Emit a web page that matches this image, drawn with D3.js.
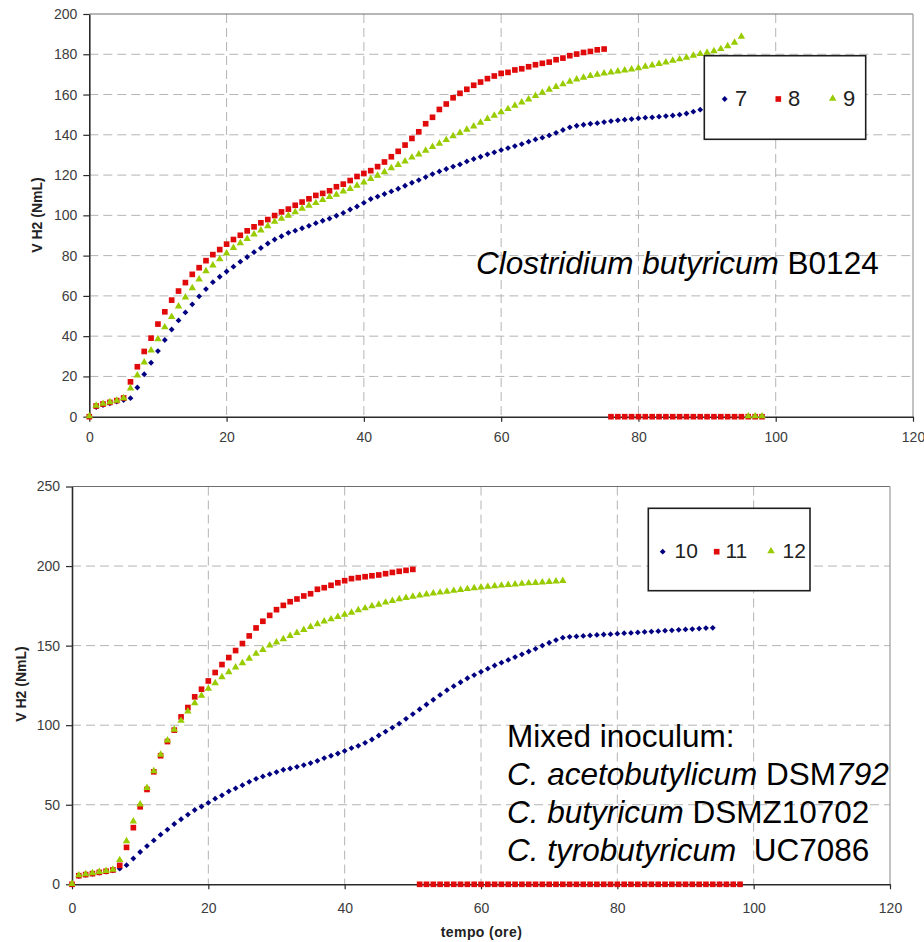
<!DOCTYPE html>
<html><head><meta charset="utf-8">
<script src="https://cdn.jsdelivr.net/npm/d3@7"></script>
<style>
body{margin:0;background:#fff}
svg{display:block}
text{font-family:"Liberation Sans",Arial,Helvetica,sans-serif}
</style>
</head><body>
<svg id="chart" width="924" height="942"></svg>
<script>
// ---------- data (one value per hour, starting at 0 h) ----------
const xTickValues = [0, 20, 40, 60, 80, 100, 120];
const yTicksTop = [0, 20, 40, 60, 80, 100, 120, 140, 160, 180, 200];
const yTicksBottom = [0, 50, 100, 150, 200, 250];

const namesTop = ["7", "8", "9"];
const serie7 = [0, 4.8, 5.8, 6.6, 7.5, 8.3, 9.2, 14.5, 21.1, 26.8, 32.6, 38.1, 43.3, 47.8, 51.8, 55.8, 59.8, 63.4, 66.8, 69.5, 72.1,
  74.5, 77, 79.3, 81.7, 83.8, 86, 88, 89.6, 91.3, 92.4, 93.6, 94.8, 96.1, 97.3, 98.4, 99.8, 101.2, 102.9, 104.4, 106.2,
  108.1, 109.3, 110.6, 111.9, 113.2, 114.7, 116.2, 117.5, 119, 120.5, 121.8, 123, 124.2, 125.3, 126.8, 128, 129.1, 130.3, 131.3, 132.4,
  133.4, 134.4, 135.4, 136.6, 137.7, 138.6, 139.7, 141, 142.4, 143.7, 144.5, 145, 145.5, 145.8, 146.3, 146.8, 147.2, 147.5, 147.8, 148.2,
  148.5, 148.7, 149, 149.3, 149.6, 150, 150.6, 151.5, 152.5, 153.5, 154.4, 155.2, 155.9, 156.5, 157.1, 157.7];
const serie8 = [0, 5.3, 6.3, 7.1, 8, 9.3, 17.3, 24.8, 32.4, 39, 46, 52.1, 57.9, 62.4, 66.6, 70.7, 74, 77.5, 80.5, 83, 85.7,
  88, 90.1, 92.3, 94.3, 96.3, 97.9, 99.9, 101.7, 103.1, 105, 106.6, 108.2, 109.9, 110.9, 112.2, 114.2, 115.5, 117.3, 119.3, 120.8,
  122.2, 124.2, 126.5, 129.1, 131.8, 134.9, 138.2, 141.5, 145.5, 148.7, 152.6, 155.3, 158.4, 160.6, 162.6, 164.6, 166.2, 167.9, 169.2, 170.5,
  171, 172.2, 172.8, 173.8, 174.8, 175.5, 176.1, 177.3, 178.1, 179.3, 180.1, 180.9, 181.4, 182.2, 182.6,
  0, 0, 0, 0, 0, 0, 0, 0, 0, 0, 0, 0, 0, 0, 0, 0, 0, 0, 0, 0, 0, 0, 0];
const serie9 = [0, 5.3, 6.2, 7, 7.8, 9, 13.8, 20.3, 26.8, 32.7, 38.3, 44.2, 49.4, 54.6, 59, 63.6, 68, 72.1, 74.9, 78, 80.9,
  83.6, 86, 88.1, 90.3, 92.3, 94.4, 96.6, 98.1, 99.6, 101.4, 103.1, 104.6, 105.9, 107.4, 108.9, 110, 111.7, 112.9, 114.5, 116.2,
  117.9, 119.5, 121.2, 123.2, 124.8, 126.6, 128.5, 130.1, 131.9, 133.8, 135.4, 137.2, 139.1, 140.7, 142.4, 144, 145.8, 147.7, 149.3, 151,
  152.6, 154.3, 155.9, 157.4, 159.1, 160.7, 162.2, 163.6, 164.9, 166.2, 167.3, 168.2, 169, 169.7, 170.3, 170.8, 171.3, 171.8, 172.3, 172.9,
  173.6, 174.3, 175, 175.8, 176.6, 177.3, 178.1, 179.1, 179.9, 180.6, 181.3, 182.4, 183.8, 185.6, 188.5, 0, 0, 0];

const namesBottom = ["10", "11", "12"];
const serie10 = [0, 5.2, 5.9, 6.6, 7.3, 8, 8.7, 9.8, 12, 16.2, 20.3, 24, 27.6, 31.2, 34.4, 37.9, 40.9, 43.8, 46.7, 48.9, 51.2,
  53.8, 55.9, 58.4, 60.3, 62.3, 64.4, 66.3, 67.8, 69.2, 70.5, 72, 72.8, 73.8, 74.9, 76.2, 77.6, 79.3, 80.8, 82.2, 83.8,
  85.6, 87, 88.9, 91, 93.5, 96, 98.5, 101, 104, 107, 110, 113, 116, 119, 122, 124.5, 127, 129.5, 131.5, 133.5,
  135.5, 137.5, 139.3, 141, 142.8, 144.5, 146.3, 148, 150, 151.8, 153.5, 155, 155.5, 155.8, 156.1, 156.4, 156.7, 157, 157.2, 157.5,
  157.8, 158, 158.3, 158.6, 158.8, 159.1, 159.4, 159.6, 159.9, 160.2, 160.4, 160.7, 161, 161.2, 0, 0, 0, 0];
const serie11 = [0, 5.4, 6.1, 6.7, 7.5, 8.2, 9, 11.9, 23.2, 35.6, 48.7, 59.6, 70.7, 80.8, 89.7, 96.9, 105.2, 111.1, 117.8, 122.6, 127.8,
  133.1, 138.1, 142.5, 146.9, 151.3, 156.1, 161.1, 165.3, 169, 172.6, 175.3, 177.6, 179.3, 181.2, 182.6, 185.4, 186.4, 187.9, 189.5, 190.8,
  192.1, 192.7, 193.3, 193.9, 194.4, 195.2, 196, 196.7, 197.3, 197.9,
  0, 0, 0, 0, 0, 0, 0, 0, 0, 0, 0, 0, 0, 0, 0, 0, 0, 0, 0, 0, 0, 0, 0, 0,
  0, 0, 0, 0, 0, 0, 0, 0, 0, 0, 0, 0, 0, 0, 0, 0, 0, 0, 0, 0, 0, 0, 0, 0];
const serie12 = [0, 5.4, 6.1, 6.7, 7.5, 8.2, 9, 15, 26.8, 39.3, 50, 60.3, 70.9, 81.2, 90.2, 96.9, 102.5, 108.4, 113.6, 118.2, 122.6,
  126.2, 129.9, 133.1, 136, 138.7, 141.6, 144.6, 147.1, 149.8, 151.7, 153.8, 155.9, 157.7, 159.6, 161.5, 163.2, 164.9, 166.3, 167.8, 169.2,
  170.5, 172, 173.2, 174.5, 175.5, 176.8, 177.8, 178.9, 179.7, 180.5, 181.2, 181.9, 182.5, 183.1, 183.7, 184.2, 184.8, 185.3, 185.8, 186.3,
  186.7, 187.1, 187.5, 187.9, 188.2, 188.6, 188.9, 189.2, 189.5, 189.8, 190.1, 190.4];

// ---------- styling ----------
const colors = ["#000080", "#e00a0a", "#99cc00"];
const FONT = '"Liberation Sans",Arial,Helvetica,sans-serif';
const svg = d3.select("#chart");

function marker(g, k, cx, cy) {
  if (k === 0) {
    g.append("path").attr("d", d3.symbol(d3.symbolSquare, 17)())
      .attr("transform", `translate(${cx},${cy}) rotate(45)`).attr("fill", colors[0]);
  } else if (k === 1) {
    g.append("path").attr("d", d3.symbol(d3.symbolSquare, 32)())
      .attr("transform", `translate(${cx},${cy})`).attr("fill", colors[1]);
  } else {
    g.append("path").attr("d", d3.symbol(d3.symbolTriangle, 24)())
      .attr("transform", `translate(${cx},${cy - 0.5})`).attr("fill", colors[2]);
  }
}

function panel(cfg) {
  const g = svg.append("g");
  const x = d3.scaleLinear().domain([0, 120]).range([cfg.left, cfg.right]);
  const y = d3.scaleLinear().domain([0, cfg.ymax]).range([cfg.bottom, cfg.top]);

  // grid
  g.append("g").selectAll("line").data(xTickValues.filter(v => v > 0 && v < 120)).join("line")
    .attr("x1", d => x(d)).attr("x2", d => x(d)).attr("y1", cfg.top).attr("y2", cfg.bottom)
    .attr("stroke", "#b4b4b4").attr("stroke-width", 1).attr("stroke-dasharray", "9,5");
  g.append("g").selectAll("line").data(cfg.yTicks.filter(v => v > 0 && v < cfg.ymax)).join("line")
    .attr("x1", cfg.left).attr("x2", cfg.right).attr("y1", d => y(d)).attr("y2", d => y(d))
    .attr("stroke", "#b4b4b4").attr("stroke-width", 1).attr("stroke-dasharray", "9,5");

  // frame top / right
  g.append("line").attr("x1", cfg.left).attr("x2", cfg.right).attr("y1", cfg.top).attr("y2", cfg.top)
    .attr("stroke", "#6e6e6e").attr("stroke-width", 1.2);
  g.append("line").attr("x1", cfg.right).attr("x2", cfg.right).attr("y1", cfg.top).attr("y2", cfg.bottom)
    .attr("stroke", "#9a9a9a").attr("stroke-width", 1.2);

  // axes
  const ya = g.append("g").attr("transform", `translate(${cfg.left},0)`)
    .call(d3.axisLeft(y).tickValues(cfg.yTicks).tickSize(6).tickPadding(6).tickSizeOuter(0));
  const xa = g.append("g").attr("transform", `translate(0,${cfg.bottom})`)
    .call(d3.axisBottom(x).tickValues(xTickValues).tickSize(5).tickPadding(cfg.xPad).tickSizeOuter(0));
  [ya, xa].forEach(a => {
    a.select(".domain").attr("stroke", "#2a2a2a").attr("stroke-width", 1.6);
    a.selectAll(".tick line").attr("stroke", "#2a2a2a").attr("stroke-width", 1.2);
    a.selectAll(".tick text").attr("font-family", FONT).attr("font-size", 14).attr("fill", "#3c3c3c");
  });

  // series
  cfg.series.forEach((vals, k) => {
    const sg = g.append("g");
    vals.forEach((v, i) => marker(sg, k, x(i), y(v)));
  });

  // y title
  g.append("text").attr("transform", `translate(${cfg.yTitleX},${cfg.yTitleY}) rotate(-90)`)
    .attr("text-anchor", "middle").attr("font-size", 14).attr("font-weight", "bold").attr("fill", "#222")
    .text("V H2 (NmL)");

  // legend
  const L = cfg.legend;
  const lg = g.append("g");
  lg.append("rect").attr("x", L.x).attr("y", L.y).attr("width", L.w).attr("height", L.h)
    .attr("fill", "#fff").attr("stroke", "#1e1e1e").attr("stroke-width", 1.6);
  cfg.names.forEach((n, k) => {
    marker(lg, k, L.mx[k], L.my);
    lg.append("text").attr("x", L.tx[k]).attr("y", L.ty).attr("font-size", L.fs).attr("fill", "#222").text(n);
  });
  return {g, x, y};
}

panel({
  left: 89.3, right: 913, top: 14, bottom: 416.7, ymax: 200, yTicks: yTicksTop, xPad: 10,
  series: [serie7, serie8, serie9], names: namesTop,
  yTitleX: 41.5, yTitleY: 215,
  legend: {x: 704.3, y: 55.7, w: 161.4, h: 83.6, mx: [724.7, 778.3, 832.7], my: 99, tx: [735, 788, 843], ty: 106, fs: 22}
});

panel({
  left: 72, right: 890, top: 486.5, bottom: 884.3, ymax: 250, yTicks: yTicksBottom, xPad: 14,
  series: [serie10, serie11, serie12], names: namesBottom,
  yTitleX: 25.5, yTitleY: 684,
  legend: {x: 648.3, y: 508.3, w: 161.7, h: 82.4, mx: [662.7, 716.7, 771], my: 551.7, tx: [674.5, 725.5, 782.5], ty: 558, fs: 21}
});

// x title
svg.append("text").attr("x", 481.5).attr("y", 937).attr("text-anchor", "middle")
  .attr("font-size", 14).attr("font-weight", "bold").attr("fill", "#222").attr("letter-spacing", 0.4).text("tempo (ore)");

// annotations
const t1 = svg.append("text").attr("x", 476).attr("y", 274).attr("font-size", 31.5).attr("fill", "#000");
t1.append("tspan").attr("font-style", "italic").text("Clostridium butyricum");
t1.append("tspan").text(" B0124");

const lines = [
  [["Mixed inoculum:", false]],
  [["C. acetobutylicum", true], [" DSM", false], ["792", true]],
  [["C. butyricum", true], [" DSMZ10702", false]],
  [["C. tyrobutyricum", true], ["\u00a0 UC7086", false]]
];
const baselines = [747, 785, 823, 861];
lines.forEach((parts, i) => {
  const t = svg.append("text").attr("x", 507).attr("y", baselines[i]).attr("font-size", 31.5).attr("fill", "#000");
  parts.forEach(([s, it]) => t.append("tspan").attr("font-style", it ? "italic" : "normal").text(s));
});
</script>
</body></html>
